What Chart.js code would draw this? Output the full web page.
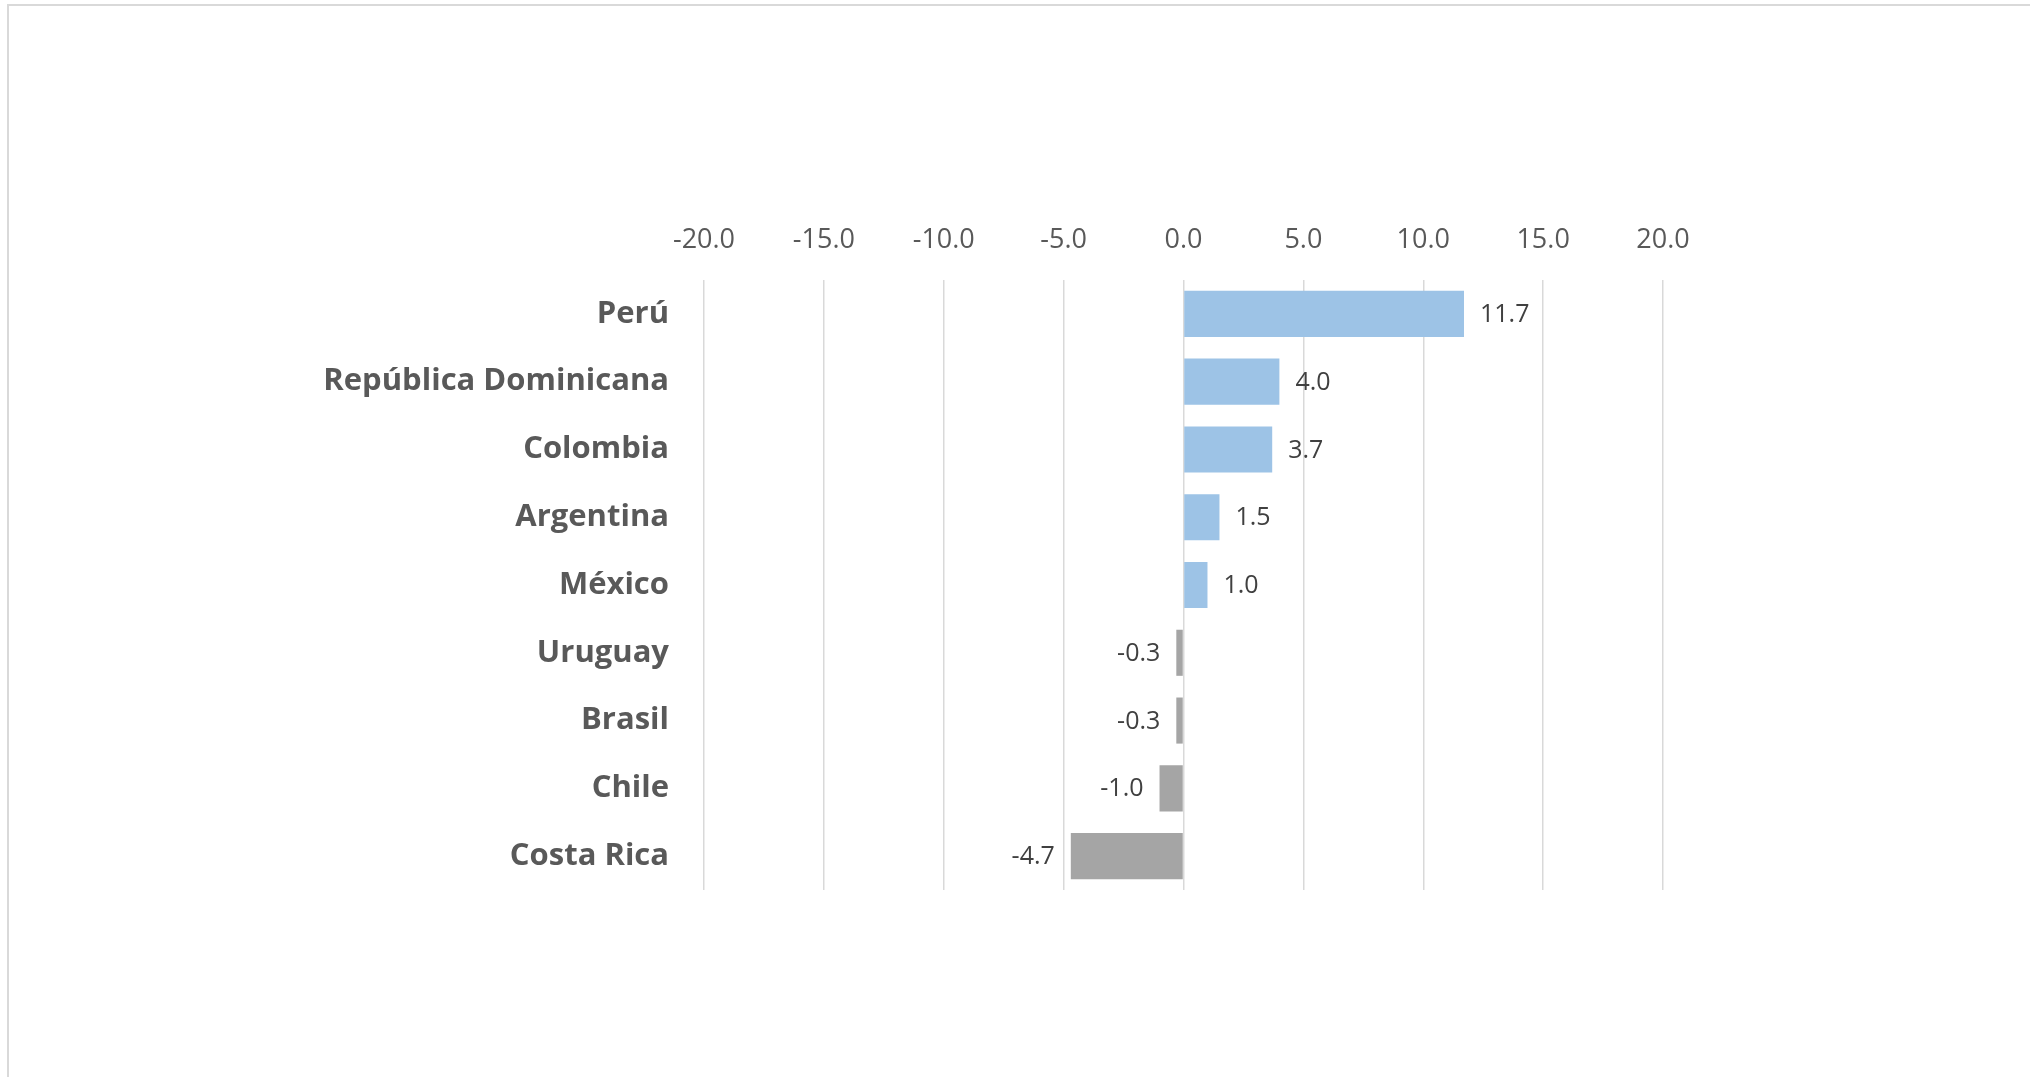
<!DOCTYPE html>
<html>
<head>
<meta charset="utf-8">
<script src="https://cdn.jsdelivr.net/npm/chart.js@4/dist/chart.umd.min.js"></script>
<style>
  html, body { margin: 0; padding: 0; background: #fff; }
  #wrap { position: relative; width: 2030px; height: 1077px; overflow: hidden; }
  #frame { position: absolute; left: 7px; top: 4px; right: -10px; bottom: -10px;
           border-top: 2px solid #D9D9D9; border-left: 2px solid #D9D9D9; }
  canvas { position: absolute; left: 0; top: 0; }
</style>
</head>
<body>
<div id="wrap">
  <div id="frame"></div>
  <canvas id="bar-chart" width="2030" height="1077"></canvas>
</div>
<script>
var countries = ['Perú', 'República Dominicana', 'Colombia', 'Argentina', 'México',
                 'Uruguay', 'Brasil', 'Chile', 'Costa Rica'];
var values = [11.7, 4.0, 3.7, 1.5, 1.0, -0.3, -0.3, -1.0, -4.7];
var axisMin = -20;
var axisMax = 20;
var axisStep = 5;

var positiveColor = '#9DC3E6';
var negativeColor = '#A5A5A5';

// value labels next to each bar, outside the bar end
var valueLabels = {
  id: 'valueLabels',
  afterDatasetsDraw: function (chart) {
    var ctx = chart.ctx;
    var meta = chart.getDatasetMeta(0);
    ctx.save();
    ctx.font = '25px "Open Sans"';
    ctx.fillStyle = '#404040';
    ctx.textBaseline = 'middle';
    meta.data.forEach(function (bar, i) {
      var v = values[i];
      if (v >= 0) {
        ctx.textAlign = 'left';
        ctx.fillText(v.toFixed(1), bar.x + 16, bar.y + 1);
      } else {
        ctx.textAlign = 'right';
        ctx.fillText(v.toFixed(1), bar.x - 16, bar.y + 1);
      }
    });
    ctx.restore();
  }
};

var config = {
  type: 'bar',
  data: {
    labels: countries,
    datasets: [{
      data: values,
      backgroundColor: values.map(function (v) { return v >= 0 ? positiveColor : negativeColor; }),
      categoryPercentage: 1.0,
      barPercentage: 0.68
    }]
  },
  options: {
    indexAxis: 'y',
    responsive: false,
    animation: false,
    layout: { padding: { left: 0, right: 367, top: 0, bottom: 187 } },
    plugins: {
      legend: { display: false },
      tooltip: { enabled: false }
    },
    scales: {
      x: {
        position: 'top',
        min: axisMin,
        max: axisMax,
        afterFit: function (scale) { scale.height = 280; },
        ticks: {
          stepSize: axisStep,
          padding: 23,
          color: '#595959',
          font: { family: 'Open Sans', size: 27 },
          callback: function (v) { return Number(v).toFixed(1); }
        },
        grid: { color: '#D9D9D9', lineWidth: 1.5, drawTicks: false },
        border: { display: false }
      },
      y: {
        afterFit: function (scale) { scale.width = 704; },
        ticks: {
          padding: 35,
          color: '#595959',
          font: { family: 'Open Sans', size: 31, weight: 'bold' }
        },
        grid: { display: false, drawTicks: false },
        border: { display: false }
      }
    }
  },
  plugins: [valueLabels]
};

var ctx = document.getElementById('bar-chart').getContext('2d');
new Chart(ctx, config);
</script>
</body>
</html>
